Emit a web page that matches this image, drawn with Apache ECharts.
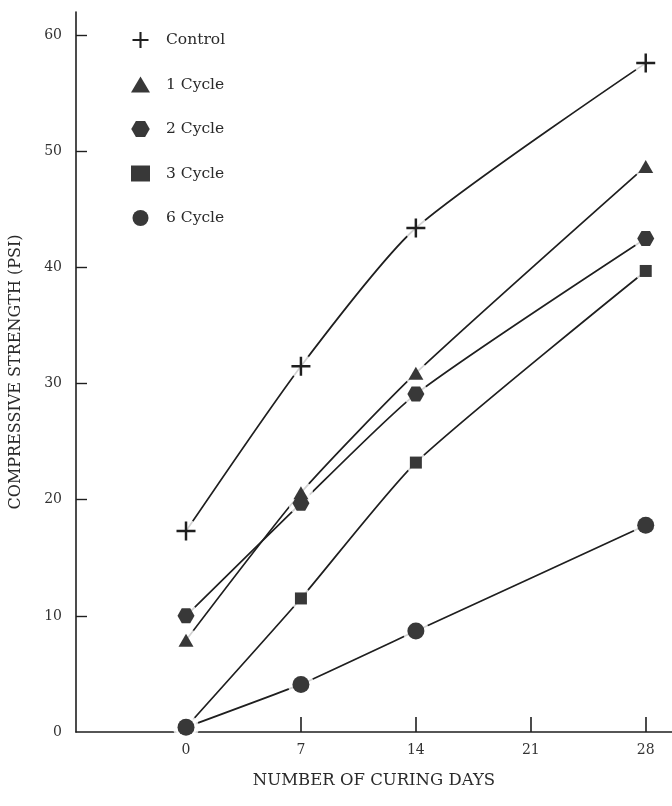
<!DOCTYPE html>
<html>
<head>
<meta charset="utf-8">
<style>
  html, body { margin: 0; padding: 0; background: #fff; }
  #chart { width: 672px; height: 806px; }
</style>
<script src="https://cdn.jsdelivr.net/npm/echarts@6/dist/echarts.min.js"></script>
</head>
<body>
<div id="chart"></div>
<script>
// Curing days at which specimens were tested
const days = [0, 7, 14, 28];

// Compressive strength (psi) for each freeze–thaw treatment
const seriesNames = ['Control', '1 Cycle', '2 Cycle', '3 Cycle', '6 Cycle'];
const control = [17.3, 31.5, 43.4, 57.6];
const cycle1  = [7.9, 20.6, 30.9, 48.7];
const cycle2  = [10.0, 19.7, 29.1, 42.5];
const cycle3  = [0.4, 11.5, 23.2, 39.7];
const cycle6  = [0.4, 4.1, 8.7, 17.8];

// Axis tick labels
const xTickValues = [0, 7, 14, 21, 28];
const yTickValues = [0, 10, 20, 30, 40, 50, 60];

const valueSets = [control, cycle1, cycle2, cycle3, cycle6];

const INK = '#1f1f1f';
const MARK = '#383838';
const FONT = 'DejaVu Serif';

const plusPath = 'path://M8.7,0h2.6v8.7h8.7v2.6h-8.7v8.7h-2.6v-8.7h-8.7v-2.6h8.7z';
const hexPath = 'path://M5,0h10l5,8.66l-5,8.66h-10l-5,-8.66z';

const symbols = [plusPath, 'triangle', hexPath, 'rect', 'circle'];
const symbolSizes = [19, [15, 13], [17, 15], 12, 17];
const haloSizes = [24, 24, 25, 22, 26];
const smoothness = [0.22, 0.2, 0.2, 0.2, 0.08];

function pairs(vals) {
  return days.map((d, i) => [d, vals[i]]);
}

const series = [];
// Curves first, underneath everything
valueSets.forEach((vals, k) => {
  series.push({
    name: seriesNames[k],
    type: 'line',
    data: pairs(vals),
    smooth: smoothness[k],
    symbol: 'none',
    lineStyle: { color: INK, width: 1.7 },
    z: 1,
    silent: true
  });
});
// White halos that open a small gap where each curve meets its marker
valueSets.forEach((vals, k) => {
  series.push({
    type: 'scatter',
    data: pairs(vals),
    symbol: 'circle',
    symbolSize: haloSizes[k],
    itemStyle: { color: '#fff' },
    z: 2,
    silent: true
  });
});
// Markers
valueSets.forEach((vals, k) => {
  series.push({
    name: seriesNames[k],
    type: 'scatter',
    data: pairs(vals),
    symbol: symbols[k],
    symbolSize: symbolSizes[k],
    itemStyle: { color: k === 0 ? INK : MARK, opacity: 1 },
    z: 3
  });
});

const chart = echarts.init(document.getElementById('chart'), null, { renderer: 'canvas' });
chart.setOption({
  backgroundColor: '#ffffff',
  animation: false,
  textStyle: { fontFamily: FONT },
  grid: { left: 66, right: 0, top: 12, bottom: 74, containLabel: false },
  legend: {
    orient: 'vertical',
    left: 126,
    top: 27,
    itemGap: 28.5,
    itemWidth: 19,
    itemHeight: 16,
    textStyle: { fontFamily: FONT, fontSize: 15.5, color: '#2a2a2a', padding: [0, 0, 0, 11] },
    data: seriesNames.map((n, k) => ({
      name: n,
      icon: symbols[k],
      itemStyle: { color: k === 0 ? INK : MARK }
    }))
  },
  xAxis: {
    type: 'value',
    min: -6.7,
    max: 29.6,
    name: 'NUMBER OF CURING DAYS',
    nameLocation: 'middle',
    nameGap: 40,
    nameTextStyle: { fontFamily: FONT, fontSize: 16.5, color: '#2a2a2a' },
    axisLine: { show: true, onZero: false, lineStyle: { color: INK, width: 1.6 } },
    axisTick: {
      show: true, inside: true, length: 15,
      customValues: [7, 14, 21, 28],
      lineStyle: { color: INK, width: 1.6 }
    },
    axisLabel: {
      customValues: xTickValues,
      margin: 11,
      fontFamily: FONT, fontSize: 14, color: '#333'
    },
    splitLine: { show: false }
  },
  yAxis: {
    type: 'value',
    min: 0,
    max: 62,
    name: 'COMPRESSIVE STRENGTH (PSI)',
    nameLocation: 'middle',
    nameGap: 52,
    nameRotate: 90,
    nameTextStyle: { fontFamily: FONT, fontSize: 16, color: '#2a2a2a' },
    axisLine: { show: true, onZero: false, lineStyle: { color: INK, width: 1.6 } },
    axisTick: {
      show: true, inside: true, length: 11,
      customValues: [10, 20, 30, 40, 50, 60],
      lineStyle: { color: INK, width: 1.4 }
    },
    axisLabel: {
      customValues: yTickValues,
      margin: 14,
      fontFamily: FONT, fontSize: 14, color: '#333'
    },
    splitLine: { show: false }
  },
  series: series
});
</script>
</body>
</html>
